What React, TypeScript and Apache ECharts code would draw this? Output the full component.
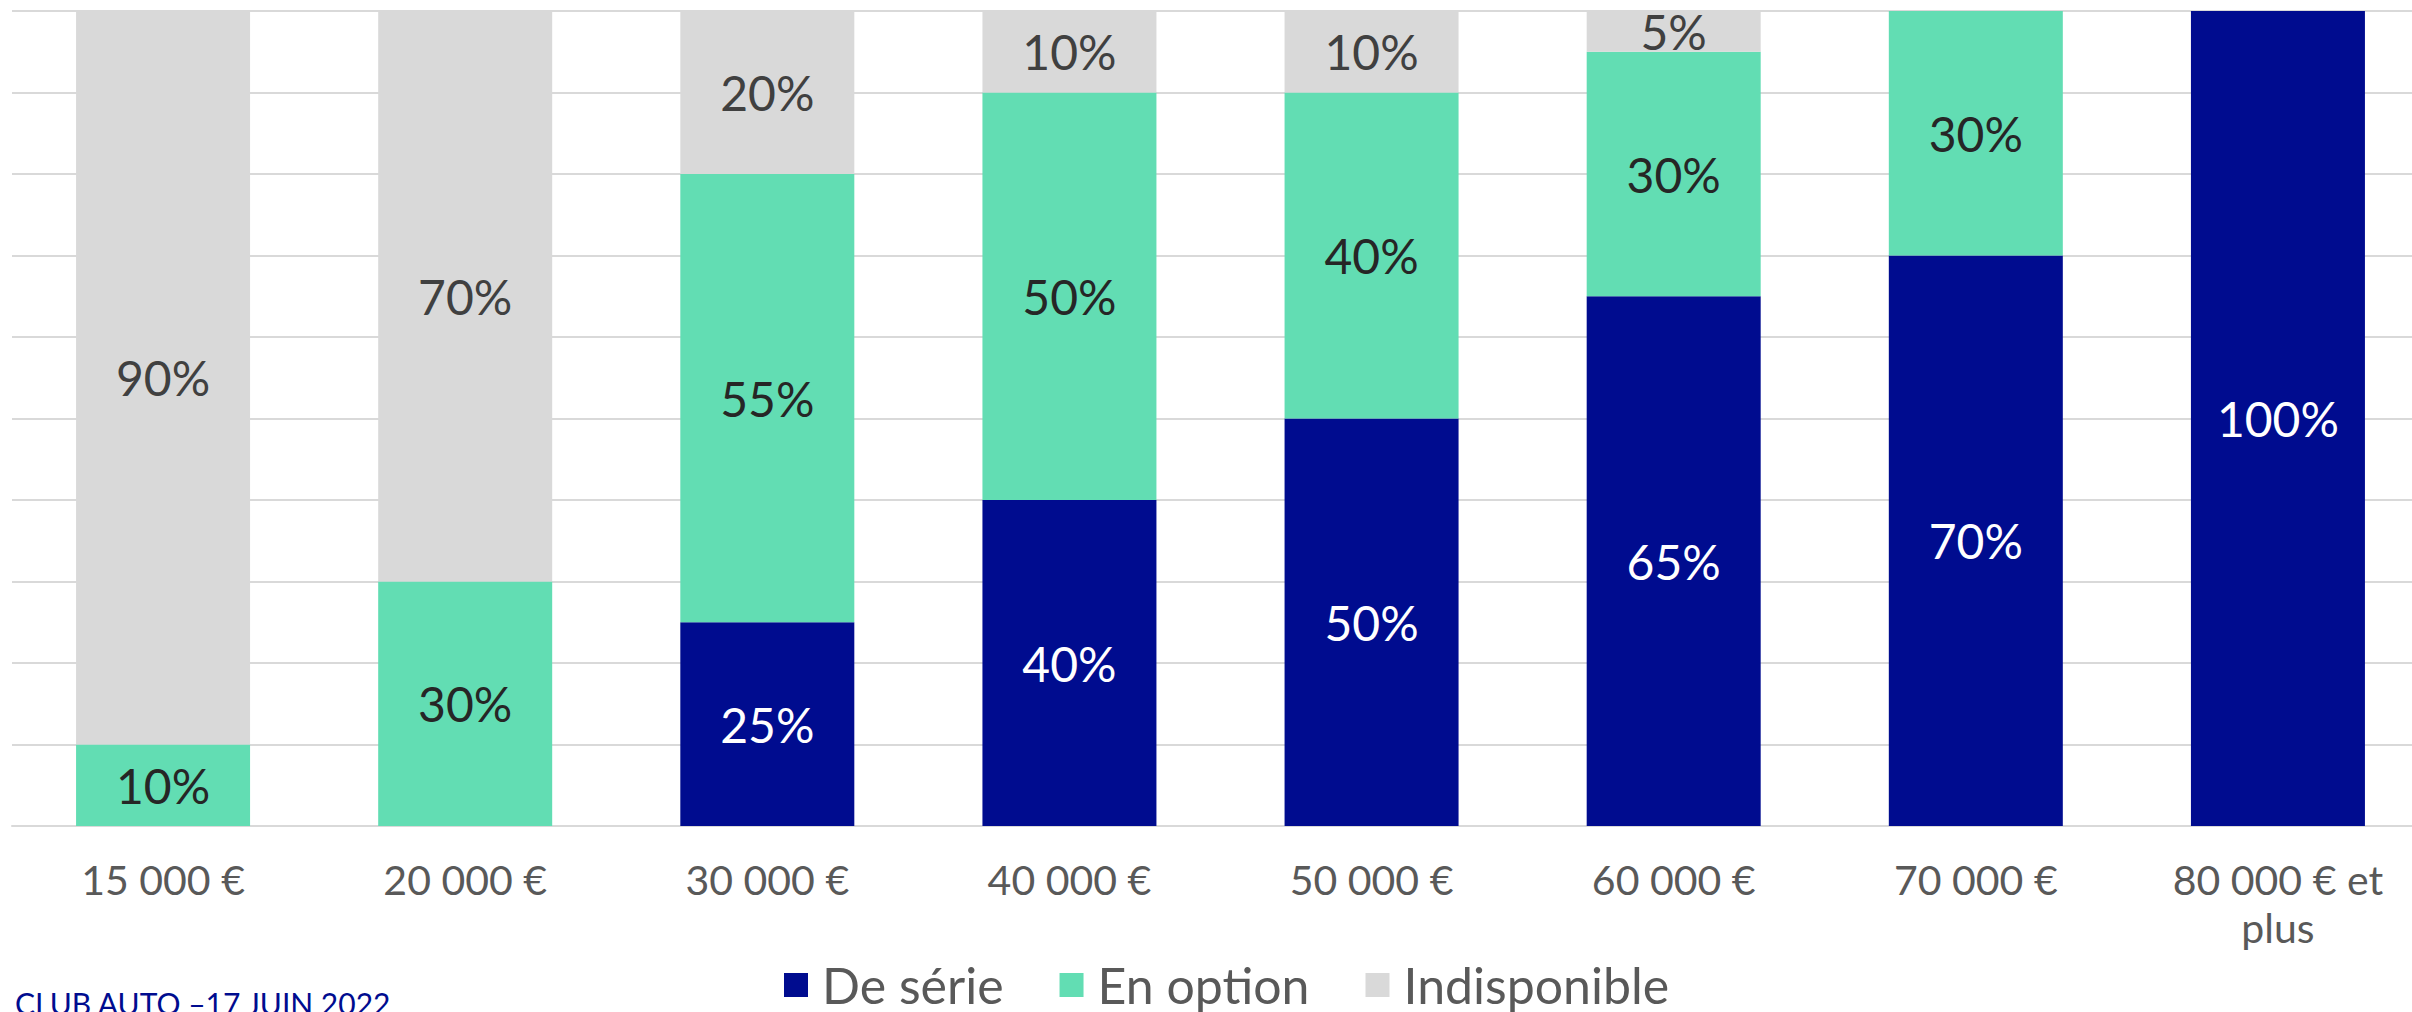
import React, { useEffect, useRef } from "react";
import * as echarts from "echarts";

const categories = ["15 000 €", "20 000 €", "30 000 €", "40 000 €", "50 000 €", "60 000 €", "70 000 €", "80 000 € et\nplus"];
const deSerie = [0, 0, 25, 40, 50, 65, 70, 100];
const enOption = [10, 30, 55, 50, 40, 30, 30, 0];
const indisponible = [90, 70, 20, 10, 10, 5, 0, 0];
const footnote = "CLUB AUTO –17 JUIN 2022";

const FONT = "Lato, 'Noto Sans', sans-serif";

export default function App() {
  const ref = useRef<HTMLDivElement>(null);
  useEffect(() => {
    document.body.style.margin = "0";
    const chart = echarts.init(ref.current!, null, { renderer: "svg" });
    const label = (color: string) => ({
      show: true,
      position: "inside",
      color,
      fontFamily: FONT,
      fontSize: 48,
      formatter: (p: any) => (p.value > 0 ? p.value + "%" : ""),
    });
    const mk = (name: string, data: number[], color: string, labelColor: string) => ({
      name,
      type: "bar",
      stack: "total",
      data,
      barWidth: 174,
      itemStyle: { color },
      label: label(labelColor),
      emphasis: { disabled: true },
    });
    chart.setOption({
      animation: false,
      textStyle: { fontFamily: FONT },
      grid: { left: 12, top: 11, right: 0, bottom: 186, containLabel: false },
      xAxis: {
        type: "category",
        data: categories,
        axisLine: { lineStyle: { color: "#D9D9D9", width: 2 } },
        axisTick: { show: false },
        axisLabel: {
          color: "#595959",
          fontFamily: FONT,
          fontSize: 41,
          lineHeight: 48,
          margin: 29,
          interval: 0,
        },
      },
      yAxis: {
        type: "value",
        min: 0,
        max: 100,
        interval: 10,
        axisLabel: { show: false },
        axisLine: { show: false },
        axisTick: { show: false },
        splitLine: { lineStyle: { color: "#D9D9D9", width: 2 } },
      },
      legend: {
        top: 960,
        left: 784,
        padding: 0,
        icon: "rect",
        itemWidth: 24,
        itemHeight: 24,
        itemGap: 56,
        textStyle: { color: "#595959", fontFamily: FONT, fontSize: 50, lineHeight: 48, padding: [0, 0, 0, 9] },
        data: ["De série", "En option", "Indisponible"],
      },
      series: [
        mk("De série", deSerie, "#000C8F", "#FFFFFF"),
        mk("En option", enOption, "#62DDB3", "#262626"),
        mk("Indisponible", indisponible, "#D9D9D9", "#404040"),
      ],
      graphic: [
        {
          type: "text",
          left: 15,
          top: 988,
          style: { text: footnote, fill: "#000C8F", fontFamily: FONT, fontSize: 30 },
        },
      ],
    });
    return () => chart.dispose();
  }, []);
  return (
    <div style={{ width: 2412, height: 1012, overflow: "hidden" }}>
      <div ref={ref} style={{ width: 2429, height: 1012 }} />
    </div>
  );
}
